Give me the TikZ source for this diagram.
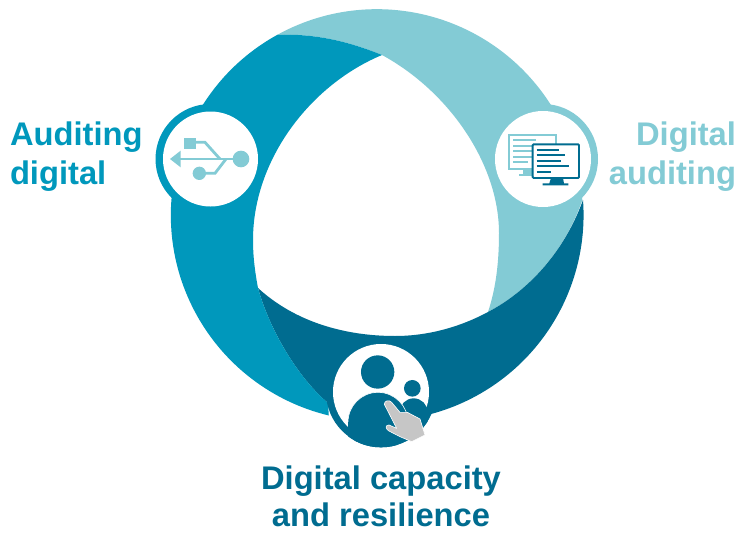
\documentclass[tikz,border=0pt]{standalone}
\usepackage{fontspec}
\setmainfont{Liberation Sans}
\definecolor{midblue}{HTML}{0098BC}
\definecolor{lightblue}{HTML}{83CBD5}
\definecolor{darkblue}{HTML}{006C90}
\definecolor{handgrey}{HTML}{C6C6C6}
\tikzset{
 lbl/.style={font=\fontsize{32.7}{39}\selectfont\bfseries,inner sep=0pt,outer sep=0pt},
 bar/.style={line width=2.2pt},
}
\begin{document}
\begin{tikzpicture}[x=1pt,y=-1pt]
\useasboundingbox[fill=white] (0,0) rectangle (740,533);
% bands
\fill[lightblue] (277,35) arc[start angle=-119,end angle=-4.2,radius=206]
  .. controls (565,250) and (530,290) .. (488,312)
  .. controls (496,288) and (499,262) .. (499,233)
  .. controls (499,165) and (450,92) .. (382,55)
  .. controls (350,42) and (315,33) .. (277,35) -- cycle;
\fill[darkblue] (583,200) arc[start angle=-4.2,end angle=100,radius=206]
  -- (328,403) .. controls (295,375) and (268,325) .. (258,288)
  .. controls (295,322) and (345,336) .. (395,336)
  .. controls (428,336) and (460,327) .. (488,312)
  .. controls (530,290) and (565,250) .. (583,200) -- cycle;
\fill[midblue] (277,35) arc[start angle=241,end angle=103.5,radius=206]
  -- (328,403) .. controls (295,375) and (268,325) .. (258,288)
  .. controls (255,272) and (253,257) .. (253,240)
  .. controls (253,160) and (310,85) .. (382,55)
  .. controls (350,42) and (315,33) .. (277,35) -- cycle;
% badges
\fill[midblue] (210.5,159) circle[radius=55];
\fill[white] (210.5,159) circle[radius=47.5];
\fill[lightblue] (543,159) circle[radius=55];
\fill[white] (543,159) circle[radius=48];
\fill[darkblue] (381,392) circle[radius=55];
\fill[white] (381,392) circle[radius=48];
% usb icon
\begin{scope}[shift={(140,90)},x=0.3333pt,y=-0.3333pt]
 \draw[lightblue,line width=2.8pt] (115,207) -- (280,207);
 \fill[lightblue] (90,207) -- (122,182) -- (122,232) -- cycle;
 \fill[lightblue] (303,207) circle[radius=25];
 \fill[lightblue] (133,143) rectangle (167,177);
 \draw[lightblue,line width=2.8pt] (165,157) -- (195,157) -- (240,207);
 \fill[lightblue] (178,250) circle[radius=20];
 \draw[lightblue,line width=2.8pt] (195,250) -- (225,250) -- (258,207);
\end{scope}
% monitors icon
\begin{scope}[shift={(480,90)},x=0.3333pt,y=-0.3333pt]
 \draw[lightblue,line width=1.8pt] (88,136) rectangle (228,238);
 \fill[lightblue] (130,238) rectangle (157,252);
 \fill[lightblue] (118,252) rectangle (157,258);
 \foreach \yy/\xe in {151/168,168/207,184/165,200/190,216/143}
   \draw[lightblue,bar] (100,\yy) -- (\xe,\yy);
 \draw[darkblue,line width=1.9pt,fill=white,rounded corners=1pt] (158,163) rectangle (297,264);
 \fill[darkblue] (213,264) -- (249,264) -- (252,280) -- (265,280) -- (265,286) -- (188,286) -- (188,280) -- (208,280) -- cycle;
 \foreach \yy/\xe in {179/237,196/254,212/243,229/267,245/213}
   \draw[darkblue,bar] (170,\yy) -- (\xe,\yy);
\end{scope}
% people icon
\begin{scope}[shift={(320,335)},x=0.3333pt,y=-0.3333pt]
 \begin{scope}
 \clip (183,172) circle[radius=165];
 \fill[darkblue] (173,111) circle[radius=50];
 \fill[darkblue] (277,160) circle[radius=25];
 \fill[darkblue] (281,232) circle[radius=42];
 \draw[white,line width=0.6pt,fill=darkblue] (174,262) circle[radius=90];
 \fill[darkblue] (84,262) rectangle (264,340);
 \fill[darkblue] (264,240) -- (330,240) -- (300,340) -- (264,340) -- cycle;
 \end{scope}
 \draw[white,line width=0.6pt,fill=handgrey,line join=round]
   (193,208) .. controls (193,196) and (208,194) .. (215,202)
   -- (240,232) -- (262,232) -- (300,252) -- (315,300) -- (275,320)
   -- (240,305) -- (205,287) .. controls (196,280) and (196,270) .. (207,270)
   -- (230,280) -- cycle;
\end{scope}
% labels
\node[lbl,anchor=base west,text=midblue] (audA) at (10,145) {Auditing};
\node[lbl,anchor=base west,text=midblue] (audB) at (10,184) {digital};
\node[lbl,anchor=base east,text=lightblue] (digA) at (736,145) {Digital};
\node[lbl,anchor=base east,text=lightblue] (digB) at (736,184) {auditing};
\node[lbl,anchor=base,text=darkblue] (capA) at (381,489) {Digital capacity};
\node[lbl,anchor=base,text=darkblue] (capB) at (381,526) {and resilience};
\end{tikzpicture}
\end{document}
